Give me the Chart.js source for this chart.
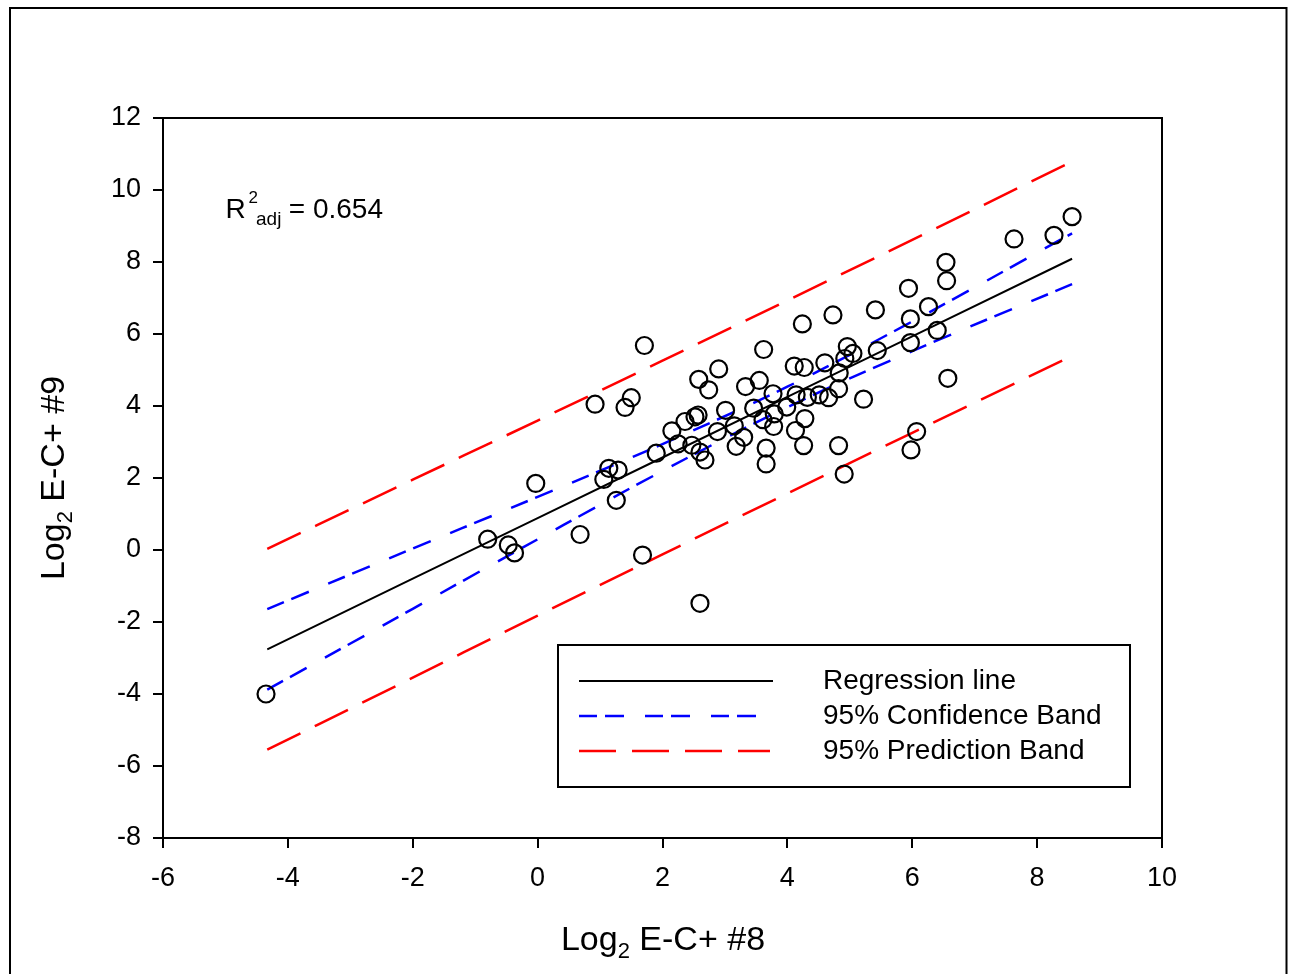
<!DOCTYPE html>
<html><head><meta charset="utf-8">
<script src="https://cdn.jsdelivr.net/npm/chart.js@4.4.0/dist/chart.umd.min.js"></script>
<style>html,body{margin:0;padding:0;background:#fff;overflow:hidden}canvas{display:block}</style>
</head><body>
<canvas id="c" width="1293" height="974"></canvas>
<script>
// ---- data ----
const xTicks = [-6, -4, -2, 0, 2, 4, 6, 8, 10];
const yTicks = [-8, -6, -4, -2, 0, 2, 4, 6, 8, 10, 12];

const obsX = [-4.35,-0.80,-0.47,-0.37,-0.03,0.68,0.92,1.06,1.14,1.29,1.26,1.40,1.50,1.71,1.68,1.90,2.15,2.25,2.36,2.47,
  2.52,2.57,2.58,2.60,2.60,2.68,2.74,2.88,2.90,3.01,3.15,3.18,3.30,3.33,3.46,3.55,3.61,3.62,3.66,3.66,
  3.77,3.79,3.78,3.99,4.13,4.14,4.11,4.24,4.27,4.28,4.26,4.32,4.51,4.60,4.66,4.73,4.83,4.82,4.82,4.91,
  4.92,4.96,5.05,5.22,5.41,5.44,5.94,5.97,5.97,5.98,6.07,6.26,6.40,6.54,6.55,6.57,7.63,8.27,8.56];
const obsY = [-4.00,0.30,0.14,-0.08,1.85,0.43,4.05,1.96,2.27,2.22,1.38,3.96,4.23,5.68,-0.14,2.69,3.31,2.95,3.57,2.91,
  3.70,3.75,4.74,-1.48,2.72,2.50,4.45,3.29,5.03,3.88,3.45,2.88,3.13,4.54,3.94,4.71,3.62,5.57,2.83,2.39,
  4.34,3.78,3.43,3.97,3.32,4.31,5.11,6.28,5.07,3.65,2.90,4.24,4.31,5.20,4.23,6.53,4.92,4.48,2.90,2.11,
  5.32,5.65,5.46,4.19,6.67,5.54,7.27,5.76,6.42,2.78,3.29,6.76,6.10,7.99,7.48,4.77,8.64,8.74,9.26];

const lineX   = [-4.33, -2, 0, 2, 4, 6, 8.56];
const regY    = [-2.758, -0.797, 0.886, 2.569, 4.252, 5.936, 8.090];
const cbUpper = [-1.64, 0.04, 1.475, 2.943, 4.536, 6.348, 8.797];
const cbLower = [-3.88, -1.635, 0.297, 2.195, 3.968, 5.524, 7.383];
const pbUpper = [0.032, 1.953, 3.596, 5.259, 6.932, 8.616, 10.79];
const pbLower = [-5.548, -3.547, -1.824, -0.121, 1.572, 3.256, 5.39];

const seriesLabels = ['Regression line', '95% Confidence Band', '95% Prediction Band'];
const r2Value = '0.654';
const xTitle = ['Log', '2', ' E-C+ #8'];
const yTitle = ['Log', '2', ' E-C+ #9'];

// ---- chart ----
const FONT = '"Liberation Sans", Arial, Helvetica, sans-serif';
const pts = (xs, ys) => xs.map((x, i) => ({x: x, y: ys[i]}));

function drawParts(ctx, parts, cx, baseY) {
  let total = 0;
  parts.forEach(p => { ctx.font = p.size + 'px ' + FONT; p.w = ctx.measureText(p.t).width; total += p.w; });
  let x = cx - total / 2;
  parts.forEach(p => {
    ctx.font = p.size + 'px ' + FONT;
    ctx.fillText(p.t, x, baseY + p.dy);
    x += p.w;
  });
}

const decor = {
  id: 'decor',
  beforeDraw(chart) {
    const ctx = chart.ctx;
    ctx.save();
    ctx.fillStyle = '#fff';
    ctx.fillRect(0, 0, chart.width, chart.height);
    ctx.strokeStyle = '#000';
    ctx.lineWidth = 2;
    ctx.strokeRect(10, 8, 1276.5, 1100);
    ctx.restore();
  },
  afterDraw(chart) {
    const ctx = chart.ctx;
    const a = chart.chartArea;
    ctx.save();
    // plot frame
    ctx.strokeStyle = '#000';
    ctx.lineWidth = 2;
    ctx.strokeRect(a.left, a.top, a.right - a.left, a.bottom - a.top);

    ctx.fillStyle = '#000';
    ctx.textBaseline = 'alphabetic';
    ctx.textAlign = 'left';
    // axis titles
    drawParts(ctx, [{t: xTitle[0], size: 34, dy: 0}, {t: xTitle[1], size: 22, dy: 8}, {t: xTitle[2], size: 34, dy: 0}], 663, 950);
    ctx.save();
    ctx.translate(64, 478);
    ctx.rotate(-Math.PI / 2);
    drawParts(ctx, [{t: yTitle[0], size: 34, dy: 0}, {t: yTitle[1], size: 22, dy: 8}, {t: yTitle[2], size: 34, dy: 0}], 0, 0);
    ctx.restore();

    // R^2 annotation
    ctx.font = '28px ' + FONT;
    ctx.fillText('R', 225.5, 218);
    ctx.font = '17px ' + FONT;
    ctx.fillText('2', 248.5, 203);
    ctx.font = '19px ' + FONT;
    ctx.fillText('adj', 256, 225);
    ctx.font = '28px ' + FONT;
    ctx.fillText(' = ' + r2Value, 281, 218);

    // legend
    ctx.lineWidth = 2;
    ctx.strokeStyle = '#000';
    ctx.strokeRect(558, 645, 572, 142);
    const rows = [681, 716, 751];
    const ends = [773, 757, 770];
    const dsIdx = [1, 2, 4];
    rows.forEach((ry, i) => {
      const ds = chart.data.datasets[dsIdx[i]];
      ctx.save();
      ctx.strokeStyle = ds.borderColor;
      ctx.lineWidth = ds.borderWidth;
      ctx.setLineDash(ds.borderDash || []);
      ctx.beginPath();
      ctx.moveTo(579, ry);
      ctx.lineTo(ends[i], ry);
      ctx.stroke();
      ctx.restore();
      ctx.font = '28px ' + FONT;
      ctx.textBaseline = 'middle';
      ctx.fillStyle = '#000';
      ctx.fillText(seriesLabels[i], 823, ry);
    });
    ctx.restore();
  }
};

const BLUE_DASH = [18, 8, 19, 21];
const RED_DASH = [37, 16];

new Chart(document.getElementById('c'), {
  type: 'scatter',
  data: {
    datasets: [
      {label: 'Data', data: pts(obsX, obsY), pointRadius: 8.5, pointBorderWidth: 2.2,
       pointBorderColor: '#000', pointBackgroundColor: 'rgba(0,0,0,0)', showLine: false},
      {label: seriesLabels[0], data: pts(lineX, regY), showLine: true, borderColor: '#000', borderWidth: 2, pointRadius: 0, tension: 0},
      {label: seriesLabels[1], data: pts(lineX, cbUpper), showLine: true, borderColor: '#0000ff', borderWidth: 2.5, borderDash: BLUE_DASH, pointRadius: 0, tension: 0.4, cubicInterpolationMode: 'monotone'},
      {label: seriesLabels[1] + ' lower', data: pts(lineX, cbLower), showLine: true, borderColor: '#0000ff', borderWidth: 2.5, borderDash: BLUE_DASH, pointRadius: 0, tension: 0.4, cubicInterpolationMode: 'monotone'},
      {label: seriesLabels[2], data: pts(lineX, pbUpper), showLine: true, borderColor: '#ff0000', borderWidth: 2.5, borderDash: RED_DASH, pointRadius: 0, tension: 0.4, cubicInterpolationMode: 'monotone'},
      {label: seriesLabels[2] + ' lower', data: pts(lineX, pbLower), showLine: true, borderColor: '#ff0000', borderWidth: 2.5, borderDash: RED_DASH, pointRadius: 0, tension: 0.4, cubicInterpolationMode: 'monotone'}
    ]
  },
  options: {
    responsive: false,
    devicePixelRatio: 1,
    animation: false,
    events: [],
    layout: {padding: {left: 0, right: 131, top: 118, bottom: 0}},
    plugins: {legend: {display: false}, tooltip: {enabled: false}, title: {display: false}},
    scales: {
      x: {
        type: 'linear', min: -6, max: 10,
        afterBuildTicks: s => { s.ticks = xTicks.map(v => ({value: v})); },
        afterFit: s => { s.height = 136; },
        ticks: {color: '#000', font: {family: FONT, size: 27}, padding: 14, maxRotation: 0, autoSkip: false},
        grid: {display: true, drawOnChartArea: false, drawTicks: true, tickLength: 10, color: '#000', lineWidth: 2},
        border: {display: true, color: '#000', width: 2}
      },
      y: {
        type: 'linear', min: -8, max: 12,
        afterBuildTicks: s => { s.ticks = yTicks.map(v => ({value: v})); },
        afterFit: s => { s.width = 163; },
        ticks: {color: '#000', font: {family: FONT, size: 27}, padding: 12, autoSkip: false},
        grid: {display: true, drawOnChartArea: false, drawTicks: true, tickLength: 10, color: '#000', lineWidth: 2},
        border: {display: true, color: '#000', width: 2}
      }
    }
  },
  plugins: [decor]
});
</script>
</body></html>
